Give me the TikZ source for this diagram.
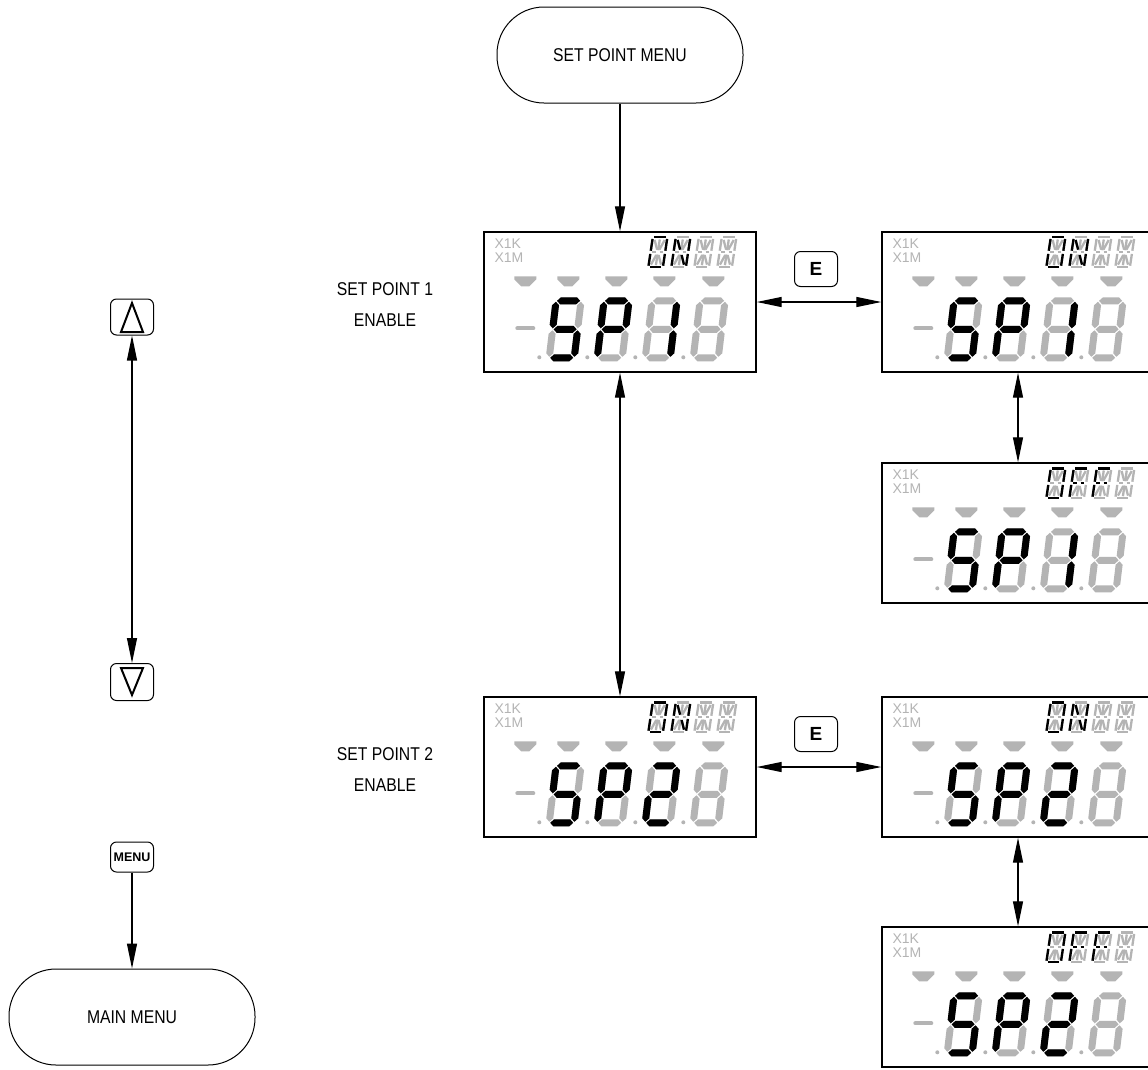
\documentclass[tikz,border=0pt]{standalone}
\usepackage{fontspec}
\setmainfont{Liberation Sans}[FakeStretch=0.85]
\newfontfamily\lcdfont{Liberation Sans}
\usetikzlibrary{arrows.meta}
\definecolor{lcdgray}{HTML}{B4B4B4}

% seven segment bars (x1, x2, y) and (x, y1, y2)
\newcommand\hsegbar[3]{\fill (#1+1,#3) -- (#1+4.5,#3+3.5) -- (#2-4.5,#3+3.5) -- (#2-1,#3) -- (#2-4.5,#3-3.5) -- (#1+4.5,#3-3.5) -- cycle;}
\newcommand\vsegbar[3]{\fill (#1,#2+1) -- (#1+3.5,#2+4.5) -- (#1+3.5,#3-4.5) -- (#1,#3-1) -- (#1-3.5,#3-4.5) -- (#1-3.5,#2+4.5) -- cycle;}
\newcommand\sevsega{\hsegbar{3.5}{28.5}{60.5}}
\newcommand\sevsegb{\vsegbar{28.5}{32}{60.5}}
\newcommand\sevsegc{\vsegbar{28.5}{3.5}{32}}
\newcommand\sevsegd{\hsegbar{3.5}{28.5}{3.5}}
\newcommand\sevsege{\vsegbar{3.5}{3.5}{32}}
\newcommand\sevsegf{\vsegbar{3.5}{32}{60.5}}
\newcommand\sevsegg{\hsegbar{3.5}{28.5}{32}}
\newcommand\sevsegnone{}

% fourteen segment characters
\newcommand\alsegA{\draw (1.5,28) -- (11.5,28);}
\newcommand\alsegB{\draw (13,15.5) -- (13,26.5);}
\newcommand\alsegC{\draw (13,1.5) -- (13,12.5);}
\newcommand\alsegD{\draw (1.5,0) -- (11.5,0);}
\newcommand\alsegE{\draw (0,1.5) -- (0,12.5);}
\newcommand\alsegF{\draw (0,15.5) -- (0,26.5);}
\newcommand\alsegG{\draw (1.5,14) -- (5,14);}
\newcommand\alsegH{\draw (8,14) -- (11.5,14);}
\newcommand\alsegI{\draw (2,25.5) -- (5.5,16.5);}
\newcommand\alsegJ{\draw (6.5,26) -- (6.5,16);}
\newcommand\alsegK{\draw (11,25.5) -- (7.5,16.5);}
\newcommand\alsegL{\draw (5.5,11.5) -- (2,2.5);}
\newcommand\alsegM{\draw (6.5,12) -- (6.5,2);}
\newcommand\alsegN{\draw (7.5,11.5) -- (11,2.5);}
\newcommand\alsegnone{}

\newcommand\onword{0/{A,B,C,D,E,F},1/{F,E,B,C,I,N},2/{none},3/{none}}
\newcommand\offword{0/{A,B,C,D,E,F},1/{A,F,E,G,H},2/{A,F,E,G,H},3/{none}}

% name, centre, lit segments of third digit, top word
\newcommand\lcddisplay[4]{%
  \node[lcdbox] (#1) at (#2) {};
  \begin{scope}[shift={(#1.north west)}]
    \node[lcdlabel] (#1k) at (11,17) {X1K};
    \node[lcdlabel] (#1m) at (11,31) {X1M};
    \foreach \k/\lit in #4 {
      \begin{scope}[shift={(165+23*\k,36)}, y=1pt, xslant=0.15, xscale=1.12, yscale=1.07, line width=2.3pt]
        \begin{scope}[lcdgray]
          \foreach \s in {A,B,C,D,E,F,G,H,I,J,K,L,M,N} {\csname alseg\s\endcsname}
        \end{scope}
        \foreach \s in \lit {\csname alseg\s\endcsname}
      \end{scope}
    }
    \foreach \c in {42,85,133,181,230}
      \fill[lcdgray] (\c-11,45) -- (\c+11,45) -- (\c+11,48) -- (\c+4,55) -- (\c-4,55) -- (\c-11,48) -- cycle;
    \draw[lcdgray, line width=4pt, line cap=round] (34,97) -- (50,97);
    \foreach \k/\lit in {0/{a,f,g,c,d},1/{a,b,f,g,e},2/{#3},3/{none}} {
      \fill[lcdgray] (56+48*\k,126) circle (2);
      \begin{scope}[shift={(62+48*\k,130)}, y=1pt, xslant=0.12]
        \begin{scope}[lcdgray]
          \foreach \s in {a,b,c,d,e,f,g} {\csname sevseg\s\endcsname}
        \end{scope}
        \foreach \s in \lit {\csname sevseg\s\endcsname}
      \end{scope}
    }
  \end{scope}}

\tikzset{
  lcdbox/.style={draw, line width=1.4pt, minimum width=272pt, minimum height=140pt, inner sep=0pt},
  lcdlabel/.style={lcdgray, anchor=base west, inner sep=0pt, font=\lcdfont\fontsize{14}{14}\selectfont},
  menubox/.style={draw, line width=1pt, rounded corners=47pt, minimum width=246pt, minimum height=96pt, font=\fontsize{18.5}{20}\selectfont},
  keybox/.style={draw, line width=1pt, rounded corners=6pt, minimum width=43pt, inner sep=0pt},
  steptext/.style={align=center, font=\fontsize{18.5}{31}\selectfont},
  arr/.style={line width=1.2pt, -{Triangle[length=25pt,width=10pt]}},
  dblarr/.style={line width=1.2pt, {Triangle[length=25pt,width=10pt]}-{Triangle[length=25pt,width=10pt]}}
}

\begin{document}
\begin{tikzpicture}[x=1pt, y=-1pt]
  \useasboundingbox (0,0) rectangle (1148,1069);
  \clip (0,0) rectangle (1148,1069);
  \fill[white] (0,0) rectangle (1148,1069);

  \node[menubox] (spmenu) at (620,55) {SET POINT MENU};

  \lcddisplay{sp1on}{620,302}{b,c}{\onword}
  \lcddisplay{sp1set}{1018,302}{b,c}{\onword}
  \lcddisplay{sp1off}{1018,533}{b,c}{\offword}
  \lcddisplay{sp2on}{620,767}{a,b,g,e,d}{\onword}
  \lcddisplay{sp2set}{1018,767}{a,b,g,e,d}{\onword}
  \lcddisplay{sp2off}{1018,997}{a,b,g,e,d}{\offword}

  \node[steptext] (sp1text) at (385,305) {SET POINT 1\\ENABLE};
  \node[steptext] (sp2text) at (385,770) {SET POINT 2\\ENABLE};

  \node[keybox, minimum height=35pt, font=\lcdfont\bfseries\fontsize{19}{19}\selectfont] (ekey1) at (816,269) {E};
  \node[keybox, minimum height=35pt, font=\lcdfont\bfseries\fontsize{19}{19}\selectfont] (ekey2) at (816,734) {E};

  \draw[arr] (spmenu) -- (sp1on);
  \draw[dblarr] (sp1on) -- (sp1set);
  \draw[dblarr] (sp1set) -- (sp1off);
  \draw[dblarr] (sp1on) -- (sp2on);
  \draw[dblarr] (sp2on) -- (sp2set);
  \draw[dblarr] (sp2set) -- (sp2off);

  % keys on the left
  \node[keybox, minimum height=36pt] (upkey) at (132,317) {};
  \draw[line width=2pt] ([shift={(-11,15)}]upkey.center) -- ([shift={(11,15)}]upkey.center) -- ([shift={(0,-14)}]upkey.center) -- cycle;
  \node[keybox, minimum height=37pt] (downkey) at (132,682) {};
  \draw[line width=2pt] ([shift={(-11,-14)}]downkey.center) -- ([shift={(11,-14)}]downkey.center) -- ([shift={(0,13)}]downkey.center) -- cycle;
  \draw[dblarr] (upkey) -- (downkey);

  \node[keybox, minimum height=30pt, font=\lcdfont\bfseries\fontsize{12.5}{12.5}\selectfont] (menukey) at (132,857) {MENU};
  \node[menubox] (mainmenu) at (132,1017) {MAIN MENU};
  \draw[arr] (menukey) -- (mainmenu);
\end{tikzpicture}
\end{document}
